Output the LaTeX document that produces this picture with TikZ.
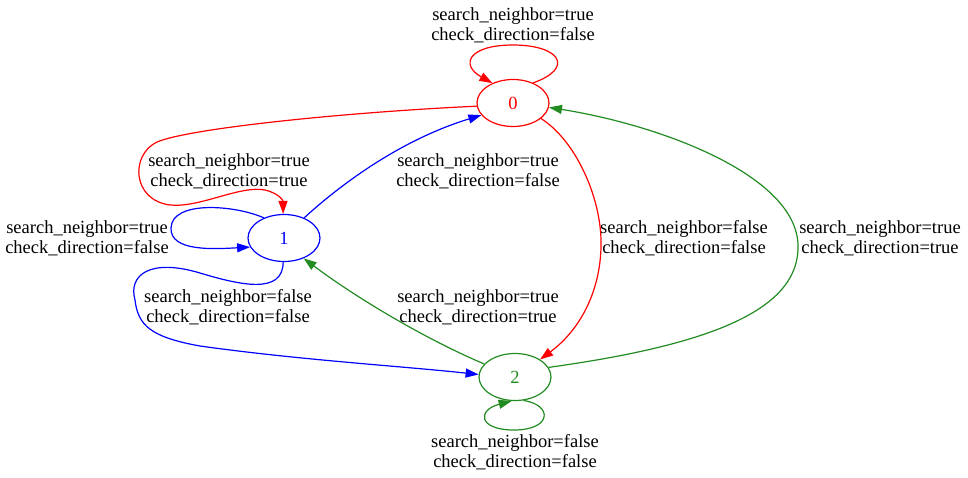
\documentclass[tikz,border=0pt]{standalone}
\usepackage{fontspec}
\setmainfont{Liberation Serif}
\usetikzlibrary{shapes.geometric,arrows.meta}
\definecolor{fgreen}{RGB}{34,139,34}
\tikzset{
  state/.style={ellipse, draw, line width=1.2pt, minimum width=72pt, minimum height=47pt, inner sep=0pt, font=\fontsize{18.5}{20}\selectfont},
  lbl/.style={align=center, inner sep=0pt, font=\fontsize{18.5}{20}\selectfont},
  edge/.style={line width=1.2pt, -{Triangle[length=13pt,width=9pt]}}
}
\begin{document}
\begin{tikzpicture}[x=1pt,y=-1pt]
\useasboundingbox (0,0) rectangle (968,477);
\node[state, red] (n0) at (513,103) {0};
\node[state, blue] (n1) at (284,238) {1};
\node[state, fgreen] (n2) at (515,377) {2};

\node[lbl] (l00) at (513,25) {search\_neighbor=true\\check\_direction=false};
\node[lbl] (l01) at (229,171) {search\_neighbor=true\\check\_direction=true};
\node[lbl] (l11) at (87,238) {search\_neighbor=true\\check\_direction=false};
\node[lbl] (l10) at (478,171) {search\_neighbor=true\\check\_direction=false};
\node[lbl] (l12) at (228,307) {search\_neighbor=false\\check\_direction=false};
\node[lbl] (l21) at (478,307) {search\_neighbor=true\\check\_direction=true};
\node[lbl] (l02) at (684,238) {search\_neighbor=false\\check\_direction=false};
\node[lbl] (l20) at (880,238) {search\_neighbor=true\\check\_direction=true};
\node[lbl] (l22) at (515,452) {search\_neighbor=false\\check\_direction=false};

% 0 -> 0
\draw[edge, red] (n0.45) .. controls (575,68) and (560,45) .. (513,45)
  .. controls (468,45) and (460,65) .. (n0.136);
% 0 -> 1
\draw[edge, red] (n0.185) .. controls (350,112) and (190,128) .. (157,142)
  .. controls (130,155) and (132,200) .. (170,205)
  .. controls (200,208) and (240,185) .. (265,190)
  .. controls (278,193) and (283,200) .. (n1.92);
% 0 -> 2
\draw[edge, red] (n0.331) .. controls (575,140) and (600,195) .. (601,240)
  .. controls (602,290) and (580,330) .. (n2.35);
% 1 -> 1
\draw[edge, blue] (n1.135) .. controls (235,205) and (172,200) .. (171,228)
  .. controls (170,252) and (215,249) .. (n1.195);
% 1 -> 0
\draw[edge, blue] (n1.45) .. controls (340,185) and (400,140) .. (n0.201);
% 1 -> 2
\draw[edge, blue] (n1.268) .. controls (283,295) and (240,285) .. (200,273)
  .. controls (150,258) and (128,275) .. (135,300)
  .. controls (138,325) and (150,337) .. (200,346)
  .. controls (300,360) and (400,366) .. (n2.176);
% 2 -> 1
\draw[edge, fgreen] (n2.157) .. controls (432,342) and (362,302) .. (n1.314);
% 2 -> 0
\draw[edge, fgreen] (n2.16) .. controls (710,345) and (800,310) .. (798,245)
  .. controls (796,175) and (660,125) .. (n0.353);
% 2 -> 2
\draw[edge, fgreen] (n2.290) .. controls (553,405) and (552,430) .. (514,430)
  .. controls (478,430) and (477,410) .. (n2.262);
\end{tikzpicture}
\end{document}
